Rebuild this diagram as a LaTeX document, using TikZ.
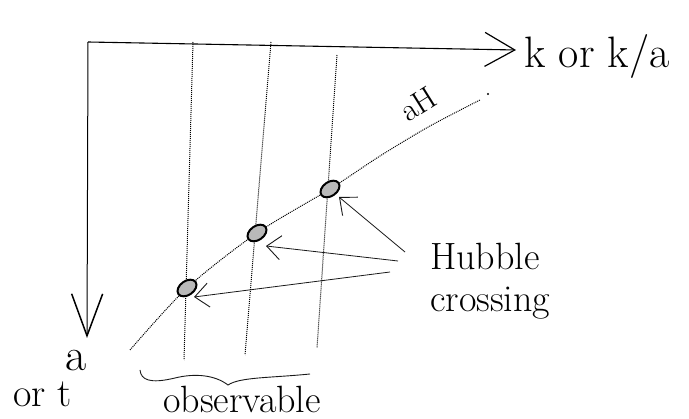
\documentclass[tikz,border=0pt]{standalone}
\usetikzlibrary{arrows.meta,shapes.geometric}
\begin{document}
\begin{tikzpicture}[x=1pt,y=-1pt,
  haxis/.style={line width=1.1pt, -{Straight Barb[length=30pt,width=34pt,line width=1.2pt]}},
  vaxis/.style={line width=1pt, -{Straight Barb[length=42pt,width=31pt,line width=1.5pt]}},
  guide/.style={densely dotted, line width=1pt, black},
  blob/.style={ellipse, draw, line width=2pt, fill=gray!55, minimum width=21pt, minimum height=14pt, inner sep=0pt, rotate=35},
  pointer/.style={line width=0.8pt, black!90, -{Straight Barb[length=14pt,width=24pt,line width=0.9pt]}},
  lbl/.style={inner sep=0pt}
]
\useasboundingbox (0,0) rectangle (689,419);

% axes
\coordinate (o) at (88,42);
\coordinate (xend) at (516,50);
\coordinate (yend) at (87,338);
\draw[haxis] (o) -- (xend);
\draw[vaxis] (o) -- (yend);

% axis labels
\node[lbl, anchor=base west, font=\fontsize{44}{48}\selectfont] (klab) at (524,68) {k or k/a};
\node[lbl, anchor=base, font=\fontsize{46}{48}\selectfont] (alab) at (76,371) {a};
\node[lbl, anchor=base west, font=\fontsize{40}{44}\selectfont] (tlab) at (13,407) {or t};

% vertical guide lines
\coordinate (l1t) at (193,42);  \coordinate (l1b) at (184,360);
\coordinate (l2t) at (271,42);  \coordinate (l2b) at (245,355);
\coordinate (l3t) at (337,55);  \coordinate (l3b) at (317,348);
\draw[guide] (l1t) -- (l1b);
\draw[guide] (l2t) -- (l2b);
\draw[guide] (l3t) -- (l3b);

% aH curve
\draw[guide] plot[smooth] coordinates {(130,350) (187,288) (257,233) (330,189) (380,156) (430,126) (480,100)};
\fill (488,94) circle (1.2pt);
\node[lbl, rotate=32, font=\fontsize{32}{34}\selectfont] (ahlab) at (418,104) {aH};

% blobs
\node[blob] (b1) at (187,288) {};
\node[blob] (b2) at (257,233) {};
\node[blob] (b3) at (330,189) {};

% Hubble crossing
\node[lbl, anchor=west, align=left, font=\fontsize{38}{42}\selectfont] (hub) at (430,281) {Hubble\\crossing};
\coordinate (h1) at (405,252);
\coordinate (h2) at (398,261);
\coordinate (h3) at (390,272);
\draw[pointer] (h1) -- ([shift={(9,8)}]b3.center);
\draw[pointer] (h2) -- ([shift={(9,13)}]b2.center);
\draw[pointer] (h3) -- ([shift={(7,9)}]b1.center);

% brace and observable
\draw[line width=0.9pt, black!90] (140,370) .. controls (141,380) and (150,384) .. (175,378)
  .. controls (195,373) and (215,375) .. (228,385)
  .. controls (240,377) and (270,378) .. (310,374);
\node[lbl, anchor=base west, font=\fontsize{38}{42}\selectfont] (obs) at (163,413) {observable};
\end{tikzpicture}
\end{document}
